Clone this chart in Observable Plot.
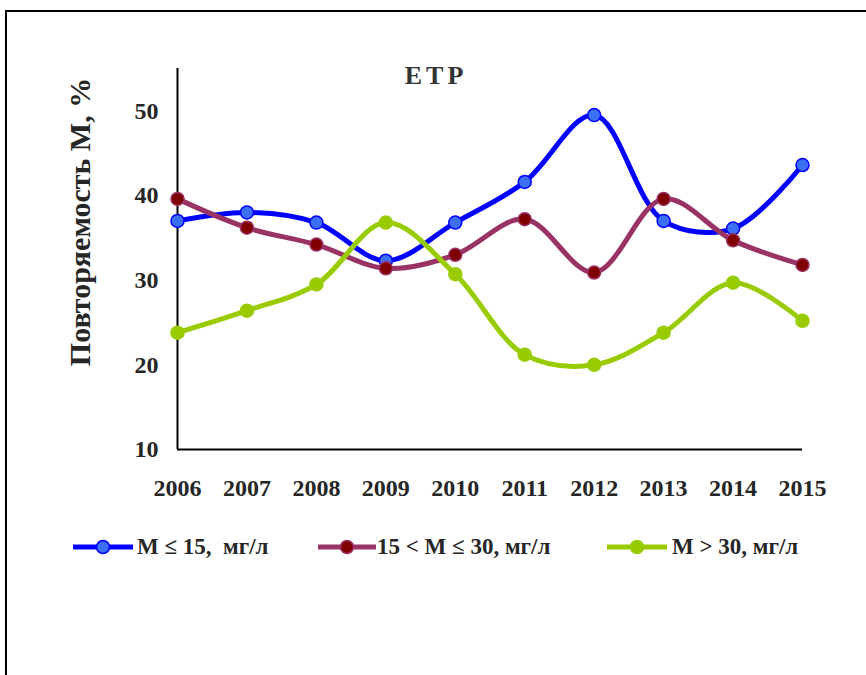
<!DOCTYPE html>
<html>
<head>
<meta charset="utf-8">
<script src="https://cdn.jsdelivr.net/npm/d3@7"></script>
<script src="https://cdn.jsdelivr.net/npm/@observablehq/plot@0.6"></script>
<style>
  html, body { margin: 0; padding: 0; background: #fff; overflow: hidden; }
  #wrap { position: relative; width: 866px; height: 675px; overflow: hidden; font-family: "Liberation Serif", "Times New Roman", serif; }
  #frame { position: absolute; left: 5px; top: 10px; width: 900px; height: 720px; border: 2px solid #000; box-sizing: border-box; }
  #chart { position: absolute; left: 0; top: 0; }
  #title { position: absolute; left: 436px; top: 76px; transform: translate(-50%, -50%); font-weight: bold; font-size: 26px; letter-spacing: 4px; color: #333; }
  #ylabel { position: absolute; left: 80px; top: 222px; transform: translate(-50%, -50%) rotate(-90deg); white-space: nowrap; font-weight: bold; font-size: 30px; color: #262626; }
  .leg { position: absolute; top: 533px; height: 28px; display: flex; align-items: center; font-weight: bold; font-size: 23px; color: #262626; white-space: pre; }
</style>
</head>
<body>
<div id="wrap">
  <div id="frame"></div>
  <div id="chart"></div>
  <div id="title">ЕТР</div>
  <div id="ylabel">Повторяемость М, %</div>
  <div id="legend"></div>
</div>
<script>
const years = [2006, 2007, 2008, 2009, 2010, 2011, 2012, 2013, 2014, 2015];
const seriesNames = ["М ≤ 15,  мг/л", "15 < М ≤ 30, мг/л", "М > 30, мг/л"];
const low  = [37.0, 38.0, 36.8, 32.3, 36.8, 41.6, 49.5, 37.0, 36.1, 43.6];
const mid  = [39.6, 36.2, 34.2, 31.4, 33.0, 37.2, 30.9, 39.6, 34.7, 31.8];
const high = [23.8, 26.4, 29.5, 36.8, 30.7, 21.2, 20.0, 23.8, 29.7, 25.2];
const yTicks = [10, 20, 30, 40, 50];

const styles = [
  {line: "#0000ff", fill: "#3d6ff5", stroke: "#0000ff"},
  {line: "#993366", fill: "#800000", stroke: "#993366"},
  {line: "#99cc00", fill: "#99cc00", stroke: "#99cc00"}
];
const values = [low, mid, high];

const marks = [];
values.forEach((vals, i) => {
  const data = years.map((y, j) => ({year: y, value: vals[j]}));
  marks.push(Plot.line(data, {x: "year", y: "value", stroke: styles[i].line, strokeWidth: 5, curve: "catmull-rom"}));
});
values.forEach((vals, i) => {
  const data = years.map((y, j) => ({year: y, value: vals[j]}));
  marks.push(Plot.dot(data, {x: "year", y: "value", r: 6.5, fill: styles[i].fill, stroke: styles[i].stroke, strokeWidth: 1.5}));
});

const chart = Plot.plot({
  width: 866,
  height: 520,
  marginLeft: 177,
  marginRight: 64,
  marginTop: 68,
  marginBottom: 71,
  style: {fontFamily: "Liberation Serif, Times New Roman, serif", background: "transparent"},
  x: {domain: [2006, 2015]},
  y: {domain: [10, 55]},
  marks: [
    Plot.axisX({ticks: years, tickFormat: d => String(d), tickSize: 0, tickPadding: 29, fontSize: 24, fontWeight: "bold", fill: "#262626", label: null}),
    Plot.axisY({ticks: yTicks, tickSize: 0, tickPadding: 19, fontSize: 24, fontWeight: "bold", fill: "#262626", label: null}),
    ...marks.slice(0, 3),
    Plot.ruleX([2006], {stroke: "#000", strokeWidth: 2}),
    Plot.ruleY([10], {stroke: "#000", strokeWidth: 2}),
    ...marks.slice(3)
  ]
});
document.getElementById("chart").appendChild(chart);

// Legend
const legendPos = [
  {lx: 73, lw: 60, tx: 137},
  {lx: 318, lw: 58, tx: 377},
  {lx: 607, lw: 60, tx: 672}
];
const legend = document.getElementById("legend");
seriesNames.forEach((name, i) => {
  const p = legendPos[i];
  const s = styles[i];
  const sw = document.createElementNS("http://www.w3.org/2000/svg", "svg");
  sw.setAttribute("width", p.lw);
  sw.setAttribute("height", 24);
  sw.style.position = "absolute";
  sw.style.left = p.lx + "px";
  sw.style.top = "535px";
  sw.innerHTML = `<line x1="0" x2="${p.lw}" y1="12" y2="12" stroke="${s.line}" stroke-width="5"/>` +
    `<circle cx="${p.lw/2}" cy="12" r="6.5" fill="${s.fill}" stroke="${s.stroke}" stroke-width="1.5"/>`;
  legend.appendChild(sw);
  const t = document.createElement("div");
  t.className = "leg";
  t.style.left = p.tx + "px";
  t.textContent = name;
  legend.appendChild(t);
});
</script>
</body>
</html>
